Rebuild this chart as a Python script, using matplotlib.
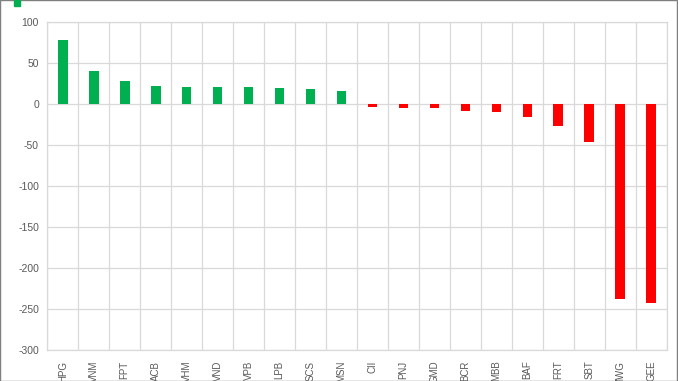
import numpy as np
import matplotlib
matplotlib.use('Agg')
import matplotlib.pyplot as plt
from matplotlib.patches import Rectangle

# Ticker symbols and values
tickers = ['HPG', 'VNM', 'FPT', 'ACB', 'VHM', 'VND', 'VPB', 'LPB', 'SCS', 'MSN',
           'CII', 'PNJ', 'GMD', 'BCR', 'MBB', 'BAF', 'FRT', 'SBT', 'MWG', 'GEE']
values = [78, 40, 28, 22, 21, 21, 20.5, 20, 18, 16,
          -3.5, -4, -5, -8, -10, -15.5, -26, -46, -238, -242]
y_ticks = [100, 50, 0, -50, -100, -150, -200, -250, -300]

green = '#00B050'
red = '#FF0000'
grid_col = '#D9D9D9'
text_col = '#595959'

plt.rcParams['font.family'] = ['Liberation Sans', 'DejaVu Sans']

fig = plt.figure(figsize=(6.78, 3.81), dpi=100)
ax = fig.add_axes([0.0698, 0.0806, 0.9135, 0.861])

x = np.arange(len(tickers))
colors = [green if v >= 0 else red for v in values]
ax.bar(x, values, width=0.31, color=colors, zorder=3)

ax.set_xlim(-0.5, len(tickers) - 0.5)
ax.set_ylim(-300, 100)
ax.set_yticks(y_ticks)
ax.set_yticklabels([str(t) for t in y_ticks], color=text_col, fontsize=7.5)

ax.set_xticks(x)
ax.set_xticklabels(tickers, rotation=90, color=text_col, fontsize=7, va='top')
ax.set_xticks(np.arange(len(tickers) + 1) - 0.5, minor=True)

ax.grid(True, axis='y', color=grid_col, linewidth=0.9, zorder=0)
ax.grid(True, axis='x', which='minor', color=grid_col, linewidth=0.9, zorder=0)
ax.tick_params(axis='both', which='both', length=0)
ax.tick_params(axis='x', pad=7.5)
ax.tick_params(axis='y', pad=6)
for s in ax.spines.values():
    s.set_color(grid_col)
    s.set_linewidth(0.9)

# outer chart frame and cut-off legend key at the top
fig.add_artist(Rectangle((0.0, 0.0), 676.5 / 678, 1.0, transform=fig.transFigure,
                         fill=False, edgecolor='#7F7F7F', linewidth=1.0))
fig.add_artist(Rectangle((14 / 678, 375 / 381), 6 / 678, 6 / 381,
                         transform=fig.transFigure, color=green))

plt.savefig('out.png', dpi=100)
